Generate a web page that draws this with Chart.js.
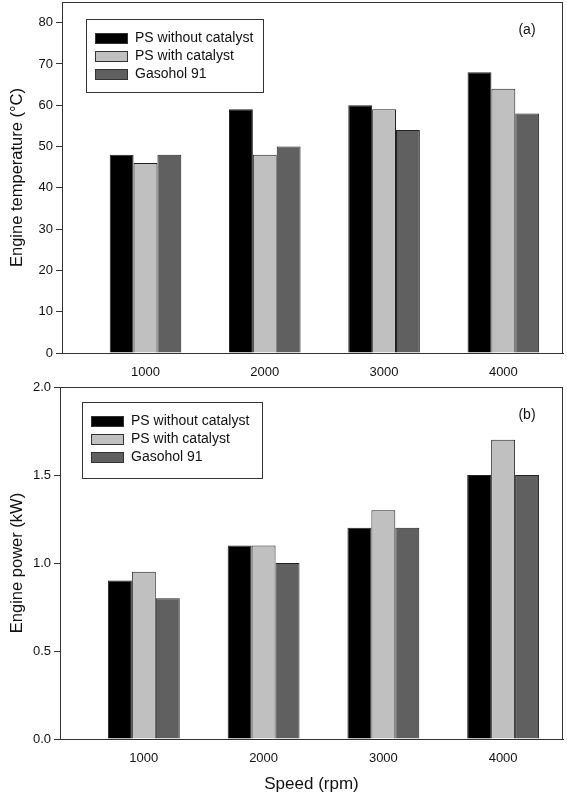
<!DOCTYPE html>
<html>
<head>
<meta charset="utf-8">
<script src="https://cdn.jsdelivr.net/npm/chart.js@4"></script>
<style>
  body { margin: 0; background: #fff; }
  .panel { position: absolute; left: 0; }
</style>
</head>
<body>
<div class="panel" style="top:0"><canvas id="chartA" width="567" height="380"></canvas></div>
<div class="panel" style="top:380px"><canvas id="chartB" width="567" height="415"></canvas></div>
<script>
// data
const speeds = ['1000', '2000', '3000', '4000'];
const xPos = [1, 2, 3, 4];
const seriesNames = ['PS without catalyst', 'PS with catalyst', 'Gasohol 91'];
const seriesColors = ['#000000', '#c0c0c0', '#606060'];

const tempWithout = [48, 59, 60, 68];
const tempWith = [46, 48, 59, 64];
const tempGasohol = [48, 50, 54, 58];
const tempTicks = [0, 10, 20, 30, 40, 50, 60, 70, 80];

const powerWithout = [0.9, 1.1, 1.2, 1.5];
const powerWith = [0.95, 1.1, 1.3, 1.7];
const powerGasohol = [0.8, 1.0, 1.2, 1.5];
const powerTicks = [0, 0.5, 1.0, 1.5, 2.0];

const FONT = 'Liberation Sans, Arial, sans-serif';
Chart.defaults.font.family = FONT;
Chart.defaults.color = '#111';

// frame round the plot + legend box + panel letter
const framePlugin = {
  id: 'frame',
  afterDraw(chart, args, opts) {
    const ctx = chart.ctx, a = chart.chartArea;
    ctx.save();
    ctx.strokeStyle = '#333';
    ctx.lineWidth = 1;
    ctx.strokeRect(a.left + 0.5, a.top + 0.5, a.right - a.left - 1, a.bottom - a.top);

    // legend
    const lx = a.left + opts.legendX, ly = a.top + opts.legendY;
    ctx.fillStyle = '#fff';
    ctx.fillRect(lx, ly, opts.legendW, opts.legendH);
    ctx.strokeRect(lx + 0.5, ly + 0.5, opts.legendW, opts.legendH);
    ctx.font = '14px ' + FONT;
    ctx.textBaseline = 'middle';
    chart.data.datasets.forEach((ds, i) => {
      const cy = ly + 19 + i * 18;
      ctx.fillStyle = ds.backgroundColor;
      ctx.fillRect(lx + 9, cy - 5, 32, 10);
      ctx.strokeStyle = '#333';
      ctx.strokeRect(lx + 9.5, cy - 4.5, 32, 10);
      ctx.fillStyle = '#111';
      ctx.fillText(ds.label, lx + 49, cy);
    });

    ctx.textAlign = 'center';
    ctx.fillText(opts.letter, a.right - 36, a.top + 28);
    ctx.restore();
  }
};

function makeDatasets(values) {
  return values.map((arr, i) => ({
    label: seriesNames[i],
    data: xPos.map((x, j) => ({ x: x, y: arr[j] })),
    backgroundColor: seriesColors[i],
    borderColor: '#222',
    borderWidth: 1,
    categoryPercentage: 0.6,
    barPercentage: 1.0
  }));
}

function makeChart(id, values, cfg) {
  return new Chart(document.getElementById(id), {
    type: 'bar',
    data: { datasets: makeDatasets(values) },
    plugins: [framePlugin],
    options: {
      responsive: false,
      animation: false,
      layout: { autoPadding: false, padding: { top: cfg.padTop, right: 4, left: 0, bottom: 0 } },
      plugins: {
        legend: { display: false },
        tooltip: { enabled: false },
        frame: cfg.frame
      },
      scales: {
        x: {
          type: 'linear',
          offset: false,
          min: 0.3,
          max: 4.5,
          afterBuildTicks: s => { s.ticks = xPos.map(v => ({ value: v })); },
          afterFit: s => { s.height = cfg.xHeight; },
          grid: { display: false, drawTicks: false },
          border: { display: true, color: '#333' },
          ticks: {
            padding: 12,
            font: { size: 13 },
            callback: (v, i) => speeds[i]
          },
          title: {
            display: !!cfg.xTitle,
            text: cfg.xTitle || '',
            font: { size: 17 },
            padding: { top: 12, bottom: 0 }
          }
        },
        y: {
          min: 0,
          max: cfg.yMax,
          afterBuildTicks: s => { s.ticks = cfg.yTicks.map(v => ({ value: v })); },
          afterFit: s => { s.width = cfg.yWidth; s.paddingTop = 0; s.paddingBottom = 0; },
          grid: { drawOnChartArea: false, drawTicks: true, tickLength: 6, color: '#333' },
          border: { display: true, color: '#333' },
          ticks: {
            padding: 3,
            font: { size: 13 },
            callback: cfg.yFormat
          },
          title: {
            display: true,
            text: cfg.yTitle,
            font: { size: 16.5 },
            padding: { top: 8, bottom: 0 }
          }
        }
      }
    }
  });
}

makeChart('chartA', [tempWithout, tempWith, tempGasohol], {
  padTop: 2,
  xHeight: 27,
  yWidth: 62,
  yMax: 85,
  yTicks: tempTicks,
  yFormat: v => String(v),
  yTitle: 'Engine temperature (\u00B0C)',
  frame: { legendX: 24, legendY: 17, legendW: 177, legendH: 73, letter: '(a)' }
});

makeChart('chartB', [powerWithout, powerWith, powerGasohol], {
  padTop: 7,
  xHeight: 56,
  yWidth: 60,
  yMax: 2.0,
  yTicks: powerTicks,
  yFormat: v => v.toFixed(1),
  yTitle: 'Engine power (kW)',
  xTitle: 'Speed (rpm)',
  frame: { legendX: 22, legendY: 15, legendW: 180, legendH: 76, letter: '(b)' }
});
</script>
</body>
</html>
